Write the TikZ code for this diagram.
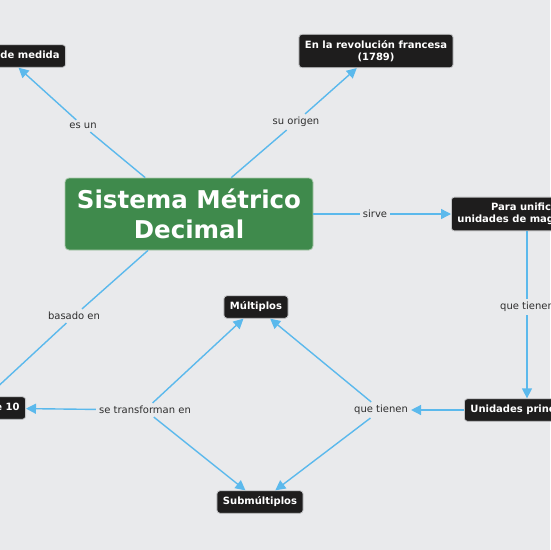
\documentclass[tikz,border=0pt]{standalone}
\usepackage{fontspec}
\setmainfont{DejaVu Sans}
\usetikzlibrary{positioning,arrows.meta}

\definecolor{bgGrey}{HTML}{E9EAEC}
\definecolor{conceptFill}{HTML}{1E1D1D}
\definecolor{conceptEdge}{HTML}{C4C5C7}
\definecolor{mainGreen}{HTML}{3F8A4C}
\definecolor{mainEdge}{HTML}{A9C9AC}
\definecolor{linkBlue}{HTML}{5BB9EC}
\definecolor{linkText}{HTML}{2E2E2E}

\tikzset{
  conceptbox/.style={draw=conceptEdge, line width=0.8pt, fill=conceptFill,
    rounded corners=3pt, text=white, align=center,
    font=\bfseries\fontsize{10}{12}\selectfont,
    inner xsep=6pt, inner ysep=6pt},
  concept/.style={conceptbox, text height=8pt, text depth=2.5pt},
  mainconcept/.style={draw=mainEdge, line width=0.8pt, fill=mainGreen,
    rounded corners=4pt, text=white, align=center,
    font=\bfseries\fontsize{24.5}{30}\selectfont,
    minimum width=248pt, minimum height=72pt},
  linkword/.style={text=linkText, font=\fontsize{10}{12}\selectfont, inner sep=3pt},
  link/.style={draw=linkBlue, line width=1.4pt},
  linkto/.style={link, -{Triangle[length=10pt,width=10pt]}},
}

\begin{document}
\begin{tikzpicture}[x=1pt, y=-1pt, on grid]
  \fill[bgGrey] (0,0) rectangle (550,550);
  \useasboundingbox (0,0) rectangle (550,550);

  % concepts
  \node[mainconcept] (sistema) at (189,214) {Sistema Métrico\\Decimal};
  \node[concept, above left=158pt and 123pt of sistema, anchor=east] (medida) {Sistema de medida};
  \node[conceptbox, above right=163pt and 187pt of sistema] (revolucion) {En la revolución francesa\\(1789)};
  \node[conceptbox, right=262pt of sistema, anchor=west] (unificar) {Para unificar\\unidades de magnitudes};
  \node[concept, below right=196pt and 13pt of unificar.west, anchor=west] (principales) {Unidades principales};
  \node[concept, below left=194pt and 163pt of sistema, anchor=east] (potencias) {Potencias de 10};
  \node[concept, below right=93pt and 67pt of sistema] (multiplos) {Múltiplos};
  \node[concept, below right=195pt and 4pt of multiplos] (submultiplos) {Submúltiplos};

  % linking words
  \node[linkword, above left=88pt and 106pt of sistema] (esun) {es un};
  \node[linkword, above right=92pt and 107pt of sistema] (origen) {su origen};
  \node[linkword, right=186pt of sistema] (sirve) {sirve};
  \node[linkword, below left=102pt and 115pt of sistema] (basado) {basado en};
  \node[linkword, below right=93pt and 76pt of unificar.west, anchor=center] (tienenA) {que tienen};
  \node[linkword, left=83pt of principales.west, anchor=center] (tienenB) {que tienen};
  \node[linkword, below left=196pt and 44pt of sistema] (transforman) {se transforman en};

  % connectors
  \draw[link] (sistema) -- (esun);
  \draw[linkto] (esun) -- (medida);
  \draw[link] (sistema) -- (origen);
  \draw[linkto] (origen) -- (revolucion);
  \draw[link] (sistema) -- (sirve);
  \draw[linkto] (sirve) -- (unificar);
  \draw[link] (sistema) -- (basado);
  \draw[linkto] (basado) -- (potencias);
  \draw[link] (unificar.south -| tienenA) -- (tienenA);
  \draw[linkto] (tienenA) -- (tienenA |- principales.north);
  \draw[linkto] (principales) -- (tienenB);
  \draw[linkto] (tienenB) -- (multiplos);
  \draw[linkto] (tienenB) -- (submultiplos);
  \draw[linkto] (transforman) -- (potencias);
  \draw[linkto] (transforman) -- (multiplos);
  \draw[linkto] (transforman) -- (submultiplos);
\end{tikzpicture}
\end{document}
